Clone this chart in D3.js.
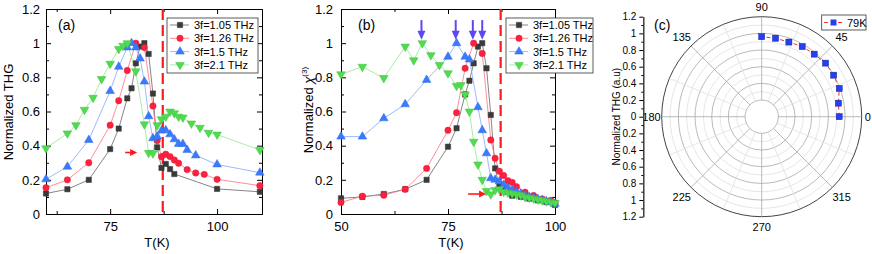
<!DOCTYPE html>
<html>
<head>
<meta charset="utf-8">
<script src="https://cdn.jsdelivr.net/npm/d3@7"></script>
<style>
body { margin: 0; background: #fff; }
svg { display: block; }
text { font-family: "Liberation Sans", Arial, sans-serif; fill: #000; }
</style>
</head>
<body>
<script>
// ---- data ----
// panel (a): normalized THG vs T
var a105T = [60,65,70,75,77,79,80,81,82,83,84,85,86,87,88,89,90,100,110];
var a105Y = [0.12,0.145,0.2,0.38,0.5,0.677,0.736,0.882,0.98,1.0,0.937,0.705,0.39,0.27,0.293,0.263,0.234,0.147,0.13];
var a126T = [60,65,70,75,77,79,81,83,85,86,87,88,89,90,91,93,95,97,100,110];
var a126Y = [0.154,0.2,0.3,0.52,0.663,0.84,1.0,0.974,0.632,0.43,0.335,0.35,0.336,0.316,0.297,0.26,0.24,0.232,0.203,0.166];
var a15T = [60,65,70,75,77,79,80,81,82,83,84,85,86,87,88,89,90,91,92,93,95,100,110];
var a15Y = [0.203,0.277,0.433,0.72,0.862,0.975,1.0,0.975,0.91,0.775,0.572,0.443,0.453,0.488,0.49,0.466,0.437,0.41,0.41,0.375,0.343,0.29,0.242];
var a21T = [60,65,67,69,71,73,75,77,78,79,81,83,84,85,86,87,88,89,90,91,92,94,96,98,100,110];
var a21Y = [0.385,0.472,0.52,0.61,0.68,0.79,0.88,0.966,0.985,1.0,0.835,0.525,0.358,0.355,0.52,0.555,0.57,0.6,0.59,0.57,0.565,0.53,0.505,0.476,0.465,0.375];

// panel (b): normalized chi(3) vs T
var b105T = [50,55,60,65,70,75,77,79,80,81,82,83,84,85,86,87,88,89,90,92,94,96,98,100];
var b105Y = [0.092,0.1,0.117,0.145,0.2,0.394,0.502,0.70,0.78,0.882,0.98,1.0,0.853,0.58,0.267,0.16,0.15,0.13,0.107,0.1,0.09,0.08,0.07,0.053];
var b126T = [50,55,60,65,70,75,77,79,81,83,85,86,87,88,89,90,91,93,95,97,99,100];
var b126Y = [0.068,0.104,0.11,0.145,0.267,0.49,0.593,0.853,1.0,0.94,0.433,0.326,0.25,0.225,0.195,0.185,0.16,0.128,0.108,0.088,0.08,0.066];
var b15T = [50,55,60,65,70,75,77,79,80,82,83,84,85,86,87,88,89,90,91,92,93,94,95,96,97,98,99,100];
var b15Y = [0.453,0.453,0.56,0.642,0.785,0.92,1.0,0.92,0.905,0.625,0.49,0.355,0.209,0.2,0.19,0.17,0.155,0.14,0.13,0.12,0.11,0.1,0.095,0.088,0.08,0.075,0.07,0.06];
var b21T = [50,55,60,65,67,69,71,73,75,77,78,79,80,81,82,83,84,85,86,87,88,89,90,91,92,93,94,95,96,97,98,99,100];
var b21Y = [0.818,0.862,0.796,0.98,0.90,1.0,0.93,0.872,0.824,0.75,0.755,0.70,0.60,0.423,0.29,0.2,0.135,0.115,0.14,0.145,0.13,0.125,0.12,0.115,0.11,0.1,0.095,0.09,0.085,0.08,0.075,0.07,0.065];

var seriesNames = ["3f=1.05 THz","3f=1.26 THz","3f=1.5 THz","3f=2.1 THz"];
var peakArrowsT = [68.8, 76.8, 80.8, 83.0];   // purple arrows in (b)
var tcLine = 87.3;                            // red dashed line

// panel (c): polar data at 79K
var polarAngle = [0,10,20,30,40,50,60,70,80,90];
var polarR = [0.93,0.935,0.99,0.997,1.0,0.98,0.972,0.953,0.956,0.96];

var yTicks = [0,0.2,0.4,0.6,0.8,1,1.2];
var yMinor = [0.1,0.3,0.5,0.7,0.9,1.1];

// ---- styles ----
var fills = ["#3a3a3a","#ff2040","#3a7aff","#4fdc4f"];
var lines = ["#666","#ff7080","#80a8ff","#90e890"];
var shapes = [d3.symbolSquare, d3.symbolCircle, d3.symbolTriangle, d3.symbolTriangle];
var sizes = [28, 32, 32, 32];
var rots = [0, 0, 0, 180];

var W = 872, H = 254;
var svg = d3.select("body").append("svg").attr("width", W).attr("height", H);

var fmt = function(d){ return (d === 0 || d === 1) ? String(d) : d3.format(".1f")(d); };

function marker(g, i, x, y) {
    g.append("path")
        .attr("d", d3.symbol().type(shapes[i]).size(sizes[i]))
        .attr("transform", "translate(" + x + "," + y + ") rotate(" + rots[i] + ")")
        .attr("fill", fills[i])
        .attr("stroke", d3.color(fills[i]).darker(0.4))
        .attr("stroke-width", 0.5);
}

function panel(o) {
    var g = svg.append("g");
    var x = d3.scaleLinear().domain(o.xd).range([o.x0, o.x1]);
    var y = d3.scaleLinear().domain([0,1.2]).range([214, 9]);

    // axes, ticks inward, mirrored top/right
    g.append("g").attr("transform","translate(" + o.x0 + ",0)")
        .call(d3.axisLeft(y).tickValues(yTicks).tickFormat(fmt).tickSize(-5).tickSizeOuter(0).tickPadding(o.ypad));
    g.append("g").attr("transform","translate(" + o.x0 + ",0)")
        .call(d3.axisLeft(y).tickValues(yMinor).tickFormat("").tickSize(-3).tickSizeOuter(0));
    g.append("g").attr("transform","translate(" + o.x1 + ",0)")
        .call(d3.axisRight(y).tickValues(yTicks).tickFormat("").tickSize(-5).tickSizeOuter(0));
    g.append("g").attr("transform","translate(" + o.x1 + ",0)")
        .call(d3.axisRight(y).tickValues(yMinor).tickFormat("").tickSize(-3).tickSizeOuter(0));
    g.append("g").attr("transform","translate(0,214)")
        .call(d3.axisBottom(x).tickValues(o.xt).tickFormat(d3.format("d")).tickSize(-5).tickSizeOuter(0).tickPadding(8));
    g.append("g").attr("transform","translate(0,214)")
        .call(d3.axisBottom(x).tickValues(o.xm).tickFormat("").tickSize(-3).tickSizeOuter(0));
    g.append("g").attr("transform","translate(0,9)")
        .call(d3.axisTop(x).tickValues(o.xt).tickFormat("").tickSize(-5).tickSizeOuter(0));
    g.append("g").attr("transform","translate(0,9)")
        .call(d3.axisTop(x).tickValues(o.xm).tickFormat("").tickSize(-3).tickSizeOuter(0));
    g.selectAll(".tick text").attr("font-size", 13).attr("font-family", "Liberation Sans, Arial, sans-serif");
    g.selectAll(".domain").attr("stroke", "#000");

    // dashed line
    g.append("line")
        .attr("x1", x(tcLine)).attr("x2", x(tcLine)).attr("y1", 9).attr("y2", 214)
        .attr("stroke", "#ff1a1a").attr("stroke-width", 2.2).attr("stroke-dasharray", "11,5");

    // series
    var line = d3.line().x(function(d){ return x(d[0]); }).y(function(d){ return y(d[1]); });
    o.data.forEach(function(s, i) {
        var pts = s[0].map(function(t, k){ return [t, s[1][k]]; });
        g.append("path").datum(pts).attr("d", line)
            .attr("fill", "none").attr("stroke", lines[i]).attr("stroke-width", 0.8);
    });
    o.data.forEach(function(s, i) {
        s[0].forEach(function(t, k){ marker(g, i, x(t), y(s[1][k])); });
    });

    // red arrow
    var ar = o.arrow;
    g.append("line")
        .attr("x1", x(ar[0])).attr("x2", x(ar[1]) - 6).attr("y1", y(ar[2])).attr("y2", y(ar[2]))
        .attr("stroke", "#ff1a1a").attr("stroke-width", 1.6);
    g.append("path")
        .attr("d", "M" + x(ar[1]) + "," + y(ar[2]) + " l-7,-3.5 l0,7 z")
        .attr("fill", "#ff1a1a");

    // legend
    var lg = g.append("g");
    lg.append("rect").attr("x", o.lx).attr("y", 18).attr("width", o.lw).attr("height", 55)
        .attr("fill", "#fff").attr("stroke", "#333").attr("stroke-width", 0.8);
    seriesNames.forEach(function(n, i) {
        var yy = 25 + i * 13.3;
        lg.append("line").attr("x1", o.lx + 3).attr("x2", o.lx + 22).attr("y1", yy).attr("y2", yy)
            .attr("stroke", lines[i]).attr("stroke-width", 0.8);
        marker(lg, i, o.lx + 13, yy);
        lg.append("text").attr("x", o.lx + 27).attr("y", yy + 4).attr("font-size", 11).text(n);
    });

    // labels
    g.append("text").attr("x", o.px).attr("y", 30).attr("font-size", 14).text(o.tag);
    g.append("text").attr("x", (o.x0 + o.x1) / 2 + 3).attr("y", 247).attr("text-anchor", "middle")
        .attr("font-size", 13).text("T(K)");
    return { g: g, x: x, y: y };
}

var pa = panel({
    x0: 46, x1: 262, xd: [60,110.5], xt: [75,100], xm: [62.5,87.5], ypad: 6,
    data: [[a105T,a105Y],[a126T,a126Y],[a15T,a15Y],[a21T,a21Y]],
    arrow: [78.5, 81.3, 0.36], lx: 167, lw: 91, px: 58, tag: "(a)"
});
pa.g.append("text").attr("transform", "translate(13,112) rotate(-90)")
    .attr("text-anchor", "middle").attr("font-size", 13).text("Normalized THG");

var pb = panel({
    x0: 341, x1: 555, xd: [50,100], xt: [50,75,100], xm: [62.5,87.5], ypad: 8,
    data: [[b105T,b105Y],[b126T,b126Y],[b15T,b15Y],[b21T,b21Y]],
    arrow: [79.7, 83.9, 0.117], lx: 506, lw: 87, px: 358, tag: "(b)"
});
var yl = pb.g.append("text").attr("transform", "translate(313,110) rotate(-90)")
    .attr("text-anchor", "middle").attr("font-size", 13);
yl.append("tspan").text("Normalized ");
yl.append("tspan").attr("font-style", "italic").text("\u03c7");
yl.append("tspan").attr("font-size", 8).attr("dy", -6).text("(3)");

// purple arrows marking peaks
peakArrowsT.forEach(function(t) {
    var xx = pb.x(t);
    pb.g.append("line").attr("x1", xx).attr("x2", xx).attr("y1", pb.y(1.135)).attr("y2", pb.y(1.06))
        .attr("stroke", "#5a48f0").attr("stroke-width", 2);
    pb.g.append("path").attr("d", "M" + xx + "," + pb.y(1.02) + " l-4,-9 l8,0 z").attr("fill", "#5a48f0");
});

// ---- panel (c): polar ----
var cx = 761.7, cy = 116.7;
var r = d3.scaleLinear().domain([0,1.2]).range([0,100]);
var pc = svg.append("g");

d3.range(2, 12).forEach(function(k) {
    pc.append("circle").attr("cx", cx).attr("cy", cy).attr("r", r(k / 10))
        .attr("fill", "none").attr("stroke", k % 2 === 0 ? "#a8a8a8" : "#e0e0e0").attr("stroke-width", 0.8);
});
d3.range(0, 360, 22.5).forEach(function(a) {
    var rad = a * Math.PI / 180;
    pc.append("line")
        .attr("x1", cx + r(0.2) * Math.cos(rad)).attr("y1", cy - r(0.2) * Math.sin(rad))
        .attr("x2", cx + r(1.2) * Math.cos(rad)).attr("y2", cy - r(1.2) * Math.sin(rad))
        .attr("stroke", a % 45 === 0 ? "#a8a8a8" : "#e0e0e0").attr("stroke-width", 0.8);
});
pc.append("circle").attr("cx", cx).attr("cy", cy).attr("r", r(1.2))
    .attr("fill", "none").attr("stroke", "#444").attr("stroke-width", 1);

// angle labels
d3.range(0, 360, 45).forEach(function(a) {
    var rad = a * Math.PI / 180;
    var rr = (a === 0) ? 103 : (a === 180) ? 101 : (a % 90 === 0) ? 110 : 113;
    pc.append("text")
        .attr("x", cx + rr * Math.cos(rad))
        .attr("y", cy - rr * Math.sin(rad) + 4)
        .attr("text-anchor", a === 0 ? "start" : a === 180 ? "end" : "middle")
        .attr("font-size", 11).text(a);
});

// radial axis on the left
var rx = 643.3;
var rUp = d3.scaleLinear().domain([0,1.2]).range([cy, cy - 100]);
var rDn = d3.scaleLinear().domain([0,1.2]).range([cy, cy + 100]);
pc.append("g").attr("transform", "translate(" + rx + ",0)")
    .call(d3.axisLeft(rUp).tickValues(yTicks).tickFormat(fmt).tickSize(4).tickSizeOuter(0).tickPadding(3));
pc.append("g").attr("transform", "translate(" + rx + ",0)")
    .call(d3.axisLeft(rDn).tickValues(yTicks.slice(1)).tickFormat(fmt).tickSize(4).tickSizeOuter(0).tickPadding(3));
pc.append("g").attr("transform", "translate(" + rx + ",0)")
    .call(d3.axisLeft(rUp).tickValues(yMinor).tickFormat("").tickSize(2).tickSizeOuter(0));
pc.append("g").attr("transform", "translate(" + rx + ",0)")
    .call(d3.axisLeft(rDn).tickValues(yMinor).tickFormat("").tickSize(2).tickSizeOuter(0));
pc.selectAll(".tick text").attr("font-size", 10).attr("font-family", "Liberation Sans, Arial, sans-serif");
pc.selectAll(".domain").attr("stroke", "#333");
pc.append("text").attr("transform", "translate(620," + cy + ") rotate(-90)")
    .attr("text-anchor", "middle").attr("font-size", 10).text("Normalized THG (a.u)");

// data
var pp = polarAngle.map(function(a, i) {
    var rad = a * Math.PI / 180;
    return [cx + r(polarR[i]) * Math.cos(rad), cy - r(polarR[i]) * Math.sin(rad), rad, polarR[i]];
});
pc.append("path").datum(pp).attr("d", d3.line())
    .attr("fill", "none").attr("stroke", "#ff2a2a").attr("stroke-width", 1).attr("stroke-dasharray", "4,3");
pp.forEach(function(p) {
    var r1 = r(p[3] - 0.025), r2 = r(p[3] + 0.025);
    pc.append("line")
        .attr("x1", cx + r1 * Math.cos(p[2])).attr("y1", cy - r1 * Math.sin(p[2]))
        .attr("x2", cx + r2 * Math.cos(p[2])).attr("y2", cy - r2 * Math.sin(p[2]))
        .attr("stroke", "#000").attr("stroke-width", 1.2);
    pc.append("rect").attr("x", p[0] - 3).attr("y", p[1] - 3).attr("width", 6).attr("height", 6)
        .attr("fill", "#2440f0").attr("stroke", "#1020a0").attr("stroke-width", 0.5);
});

// legend (c)
pc.append("rect").attr("x", 821.7).attr("y", 15).attr("width", 44.3).attr("height", 15)
    .attr("fill", "#fff").attr("stroke", "#333").attr("stroke-width", 0.8);
pc.append("line").attr("x1", 824).attr("x2", 843).attr("y1", 22.5).attr("y2", 22.5)
    .attr("stroke", "#ff2a2a").attr("stroke-width", 1).attr("stroke-dasharray", "4,3");
pc.append("rect").attr("x", 830.5).attr("y", 19.5).attr("width", 6).attr("height", 6).attr("fill", "#2440f0");
pc.append("text").attr("x", 847).attr("y", 26.5).attr("font-size", 11).text("79K");
pc.append("text").attr("x", 654).attr("y", 30).attr("font-size", 14).text("(c)");
</script>
</body>
</html>
